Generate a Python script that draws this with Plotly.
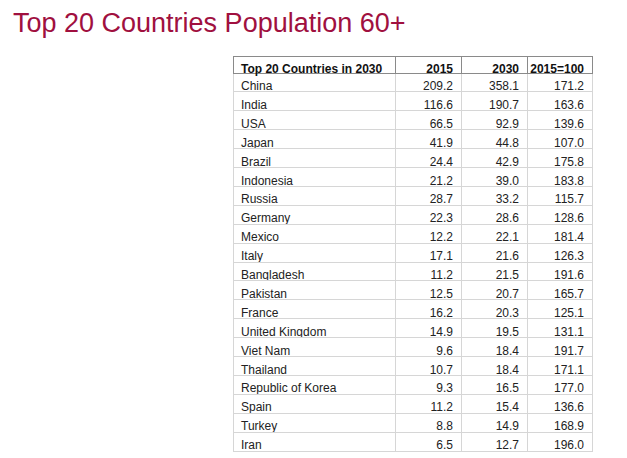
import plotly.graph_objects as go

countries = ["China", "India", "USA", "Japan", "Brazil", "Indonesia", "Russia",
             "Germany", "Mexico", "Italy", "Bangladesh", "Pakistan", "France",
             "United Kingdom", "Viet Nam", "Thailand", "Republic of Korea",
             "Spain", "Turkey", "Iran"]
pop_2015 = [209.2, 116.6, 66.5, 41.9, 24.4, 21.2, 28.7, 22.3, 12.2, 17.1,
            11.2, 12.5, 16.2, 14.9, 9.6, 10.7, 9.3, 11.2, 8.8, 6.5]
pop_2030 = [358.1, 190.7, 92.9, 44.8, 42.9, 39.0, 33.2, 28.6, 22.1, 21.6,
            21.5, 20.7, 20.3, 19.5, 18.4, 18.4, 16.5, 15.4, 14.9, 12.7]
index_2015_100 = [171.2, 163.6, 139.6, 107.0, 175.8, 183.8, 115.7, 128.6, 181.4, 126.3,
                  191.6, 165.7, 125.1, 131.1, 191.7, 171.1, 177.0, 136.6, 168.9, 196.0]
headers = ["Top 20 Countries in 2030", "2015", "2030", "2015=100"]

# page body has an 8px margin; figure drawn at (8, 8)
OFF = 8
W, H = 627 - OFF, 458 - OFF
x0, x1 = 233 - OFF, 592 - OFF
fig = go.Figure(go.Table(
    domain=dict(x=[x0 / W, x1 / W], y=[0, 1 - (56 - OFF) / H]),
    columnwidth=[162, 66, 66, 65],
    header=dict(
        values=headers,
        align=["left", "right", "right", "right"],
        font=dict(family="Liberation Sans, Arial, sans-serif", size=12,
                  color="#111111", weight="bold"),
        fill_color="white",
        line=dict(color="#8a8a8a", width=1),
        height=17,
    ),
    cells=dict(
        values=[countries, pop_2015, pop_2030, index_2015_100],
        format=[None, ".1f", ".1f", ".1f"],
        align=["left", "right", "right", "right"],
        font=dict(family="Liberation Sans, Arial, sans-serif", size=12, color="#222222"),
        fill_color="white",
        line=dict(color="#d6d6d6", width=1),
        height=18.9,
    ),
))

fig.update_layout(
    width=W, height=H,
    margin=dict(l=0, r=0, t=0, b=0),
    paper_bgcolor="white",
    title=dict(
        text="Top 20 Countries Population 60+",
        font=dict(family="Liberation Sans, Arial, sans-serif", size=27, color="#A0103F"),
        x=(13 - OFF) / W, xanchor="left", xref="paper",
        y=1 - (23 - OFF) / H, yanchor="middle", yref="container",
    ),
)

fig.write_html("out.html")
